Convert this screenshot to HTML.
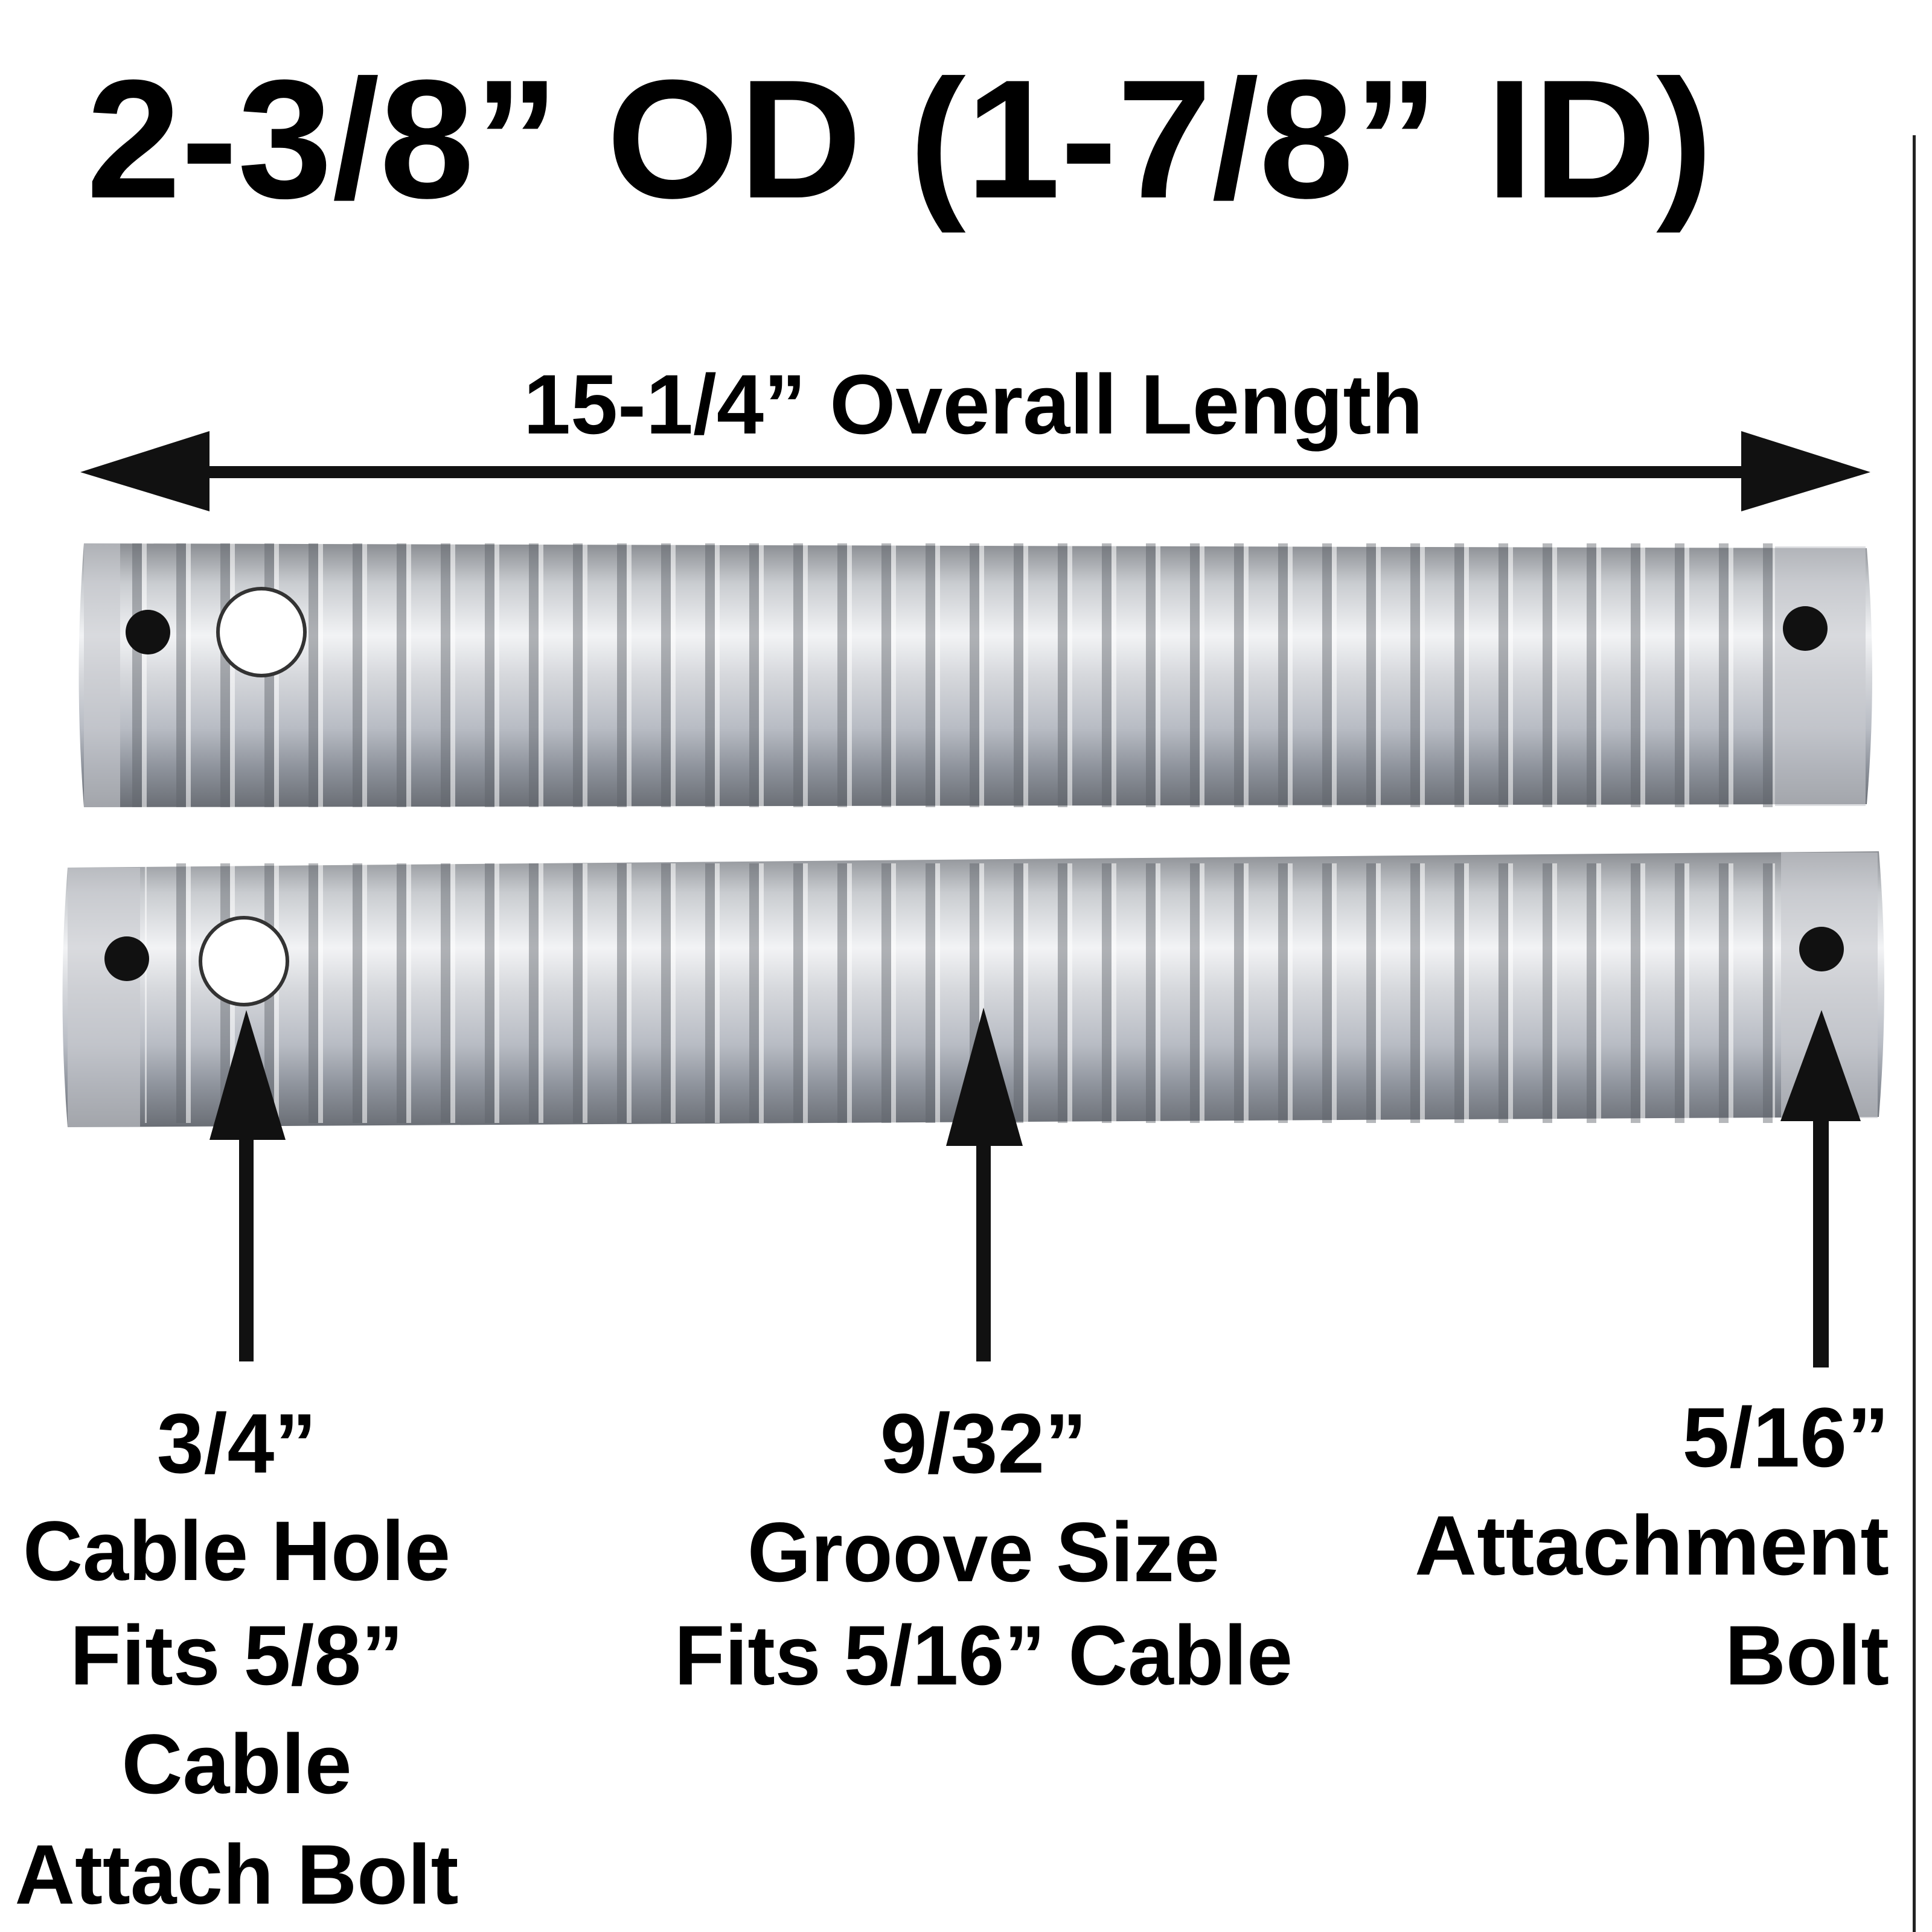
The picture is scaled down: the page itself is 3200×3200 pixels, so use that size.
<!DOCTYPE html>
<html><head><meta charset="utf-8"><style>
html,body{margin:0;padding:0;background:#fff;}
svg{display:block;}
text{font-family:"Liberation Sans",sans-serif;font-weight:bold;fill:#000;}
</style></head><body>
<svg width="3200" height="3200" viewBox="0 0 3200 3200" xmlns="http://www.w3.org/2000/svg">
<defs>
<linearGradient id="metal" x1="0" y1="0" x2="0" y2="1">
<stop offset="0" stop-color="#8a8d92"/>
<stop offset="0.15" stop-color="#c9ccd0"/>
<stop offset="0.35" stop-color="#f2f3f5"/>
<stop offset="0.5" stop-color="#d6d8dc"/>
<stop offset="0.7" stop-color="#b8bcc4"/>
<stop offset="0.85" stop-color="#8e939c"/>
<stop offset="1" stop-color="#6a6e75"/>
</linearGradient>
<pattern id="grooves" x="0" y="0" width="73" height="10" patternUnits="userSpaceOnUse">
<rect x="0" y="0" width="73" height="10" fill="none"/>
<rect x="0" y="0" width="16" height="10" fill="#5e6268" opacity="0.45"/>
<rect x="16" y="0" width="8" height="10" fill="#ffffff" opacity="0.55"/>
</pattern>
</defs>

<text x="143" y="327" font-size="280" textLength="2694" lengthAdjust="spacingAndGlyphs">2-3/8” OD (1-7/8” ID)</text>
<rect x="3168" y="224" width="5" height="2976" fill="#222"/>

<text x="867" y="718" font-size="140" textLength="1490" lengthAdjust="spacingAndGlyphs">15-1/4” Overall Length</text>
<rect x="300" y="772" width="2620" height="20" fill="#111"/>
<polygon points="133,782 347,714 347,847" fill="#111"/>
<polygon points="3098,782 2884,714 2884,847" fill="#111"/>

<!-- tube 1 -->
<g>
<path d="M139,900 L3092,908 Q3110,1120 3092,1332 L139,1337 Q122,1118 139,900 Z" fill="url(#metal)"/>
<rect x="200" y="900" width="2740" height="437" fill="url(#grooves)" transform="translate(0,0)"/>
<rect x="139" y="900" width="60" height="437" fill="#c8cace" opacity="0.6"/>
<rect x="2940" y="905" width="150" height="430" fill="#c8cace" opacity="0.6"/>
<circle cx="245" cy="1047" r="37" fill="#111"/>
<circle cx="433" cy="1047" r="72" fill="#fff" stroke="#333" stroke-width="6"/>
<circle cx="2990" cy="1041" r="37" fill="#111"/>
</g>

<!-- tube 2 -->
<g>
<path d="M112,1437 L3112,1410 Q3130,1630 3112,1850 L112,1867 Q95,1650 112,1437 Z" fill="url(#metal)"/>
<rect x="240" y="1430" width="2700" height="430" fill="url(#grooves)"/>
<rect x="112" y="1437" width="120" height="430" fill="#c8cace" opacity="0.6"/>
<rect x="2950" y="1412" width="160" height="440" fill="#c8cace" opacity="0.6"/>
<circle cx="210" cy="1588" r="37" fill="#111"/>
<circle cx="404" cy="1592" r="72" fill="#fff" stroke="#333" stroke-width="6"/>
<circle cx="3017" cy="1572" r="37" fill="#111"/>
</g>

<!-- up arrows -->
<polygon points="408,1673 347,1888 473,1888" fill="#111"/>
<rect x="396" y="1880" width="24" height="375" fill="#111"/>
<polygon points="1629,1669 1567,1898 1694,1898" fill="#111"/>
<rect x="1617" y="1890" width="24" height="365" fill="#111"/>
<polygon points="3017,1673 2949,1857 3082,1857" fill="#111"/>
<rect x="3003" y="1850" width="26" height="415" fill="#111"/>

<!-- labels -->
<g font-size="140" text-anchor="middle">
<text x="392" y="2439">3/4”</text>
<text x="392" y="2617" textLength="708" lengthAdjust="spacingAndGlyphs">Cable Hole</text>
<text x="392" y="2790">Fits 5/8”</text>
<text x="392" y="2970">Cable</text>
<text x="392" y="3153" textLength="735" lengthAdjust="spacingAndGlyphs">Attach Bolt</text>
<text x="1629" y="2439">9/32”</text>
<text x="1629" y="2619" textLength="782" lengthAdjust="spacingAndGlyphs">Groove Size</text>
<text x="1629" y="2790" textLength="1024" lengthAdjust="spacingAndGlyphs">Fits 5/16” Cable</text>
</g>
<g font-size="140" text-anchor="end">
<text x="3129" y="2429">5/16”</text>
<text x="3129" y="2608" textLength="786" lengthAdjust="spacingAndGlyphs">Attachment</text>
<text x="3129" y="2790">Bolt</text>
</g>
</svg>
</body></html>
